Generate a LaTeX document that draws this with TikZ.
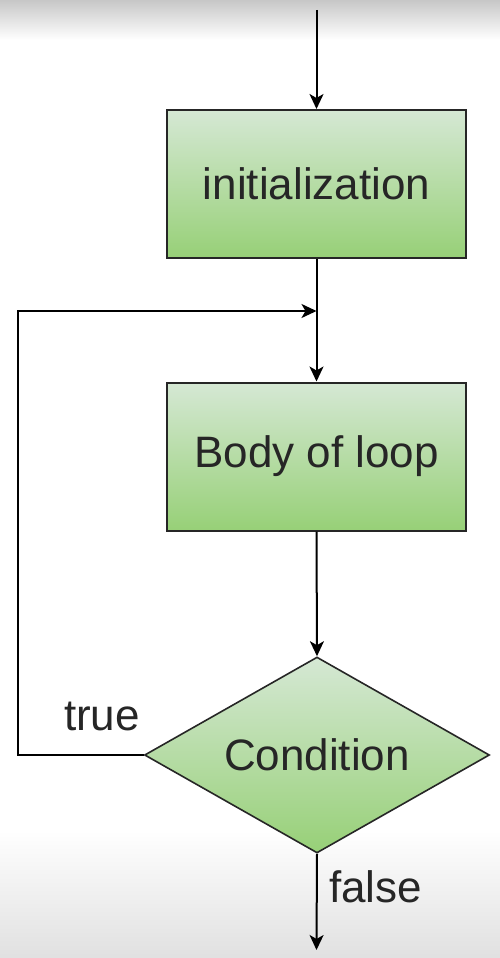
\documentclass[tikz,border=0pt]{standalone}
\usepackage{fontspec}
\setmainfont{Liberation Sans}
\usetikzlibrary{shapes.geometric,arrows.meta}
\definecolor{gtop}{HTML}{D5E8D4}
\definecolor{gbot}{HTML}{97D077}
\definecolor{txt}{HTML}{262626}
\tikzset{
  arr/.style={draw=black, line width=2pt, -{Stealth[length=15pt,width=14pt,inset=4pt]}},
  procbox/.style={draw=black!85, line width=2pt, top color=gtop, bottom color=gbot,
    minimum width=299pt, minimum height=148pt, inner sep=0pt, text=txt,
    font=\fontsize{44}{52}\selectfont},
  decbox/.style={diamond, draw=black!85, line width=1.6pt, top color=gtop, bottom color=gbot,
    minimum width=345pt, minimum height=196pt, inner sep=0pt, aspect=1.76, text=txt,
    font=\fontsize{44}{52}\selectfont},
  lbl/.style={text=txt, font=\fontsize{44}{52}\selectfont, inner sep=0pt}
}
\begin{document}
\begin{tikzpicture}[x=1pt,y=-1pt]
  \useasboundingbox (0,0) rectangle (500,958);
  \fill[white] (0,0) rectangle (500,958);
  \shade[top color=black!22, bottom color=white] (0,0) rectangle (500,40);
  \shade[top color=white, bottom color=black!12] (0,830) rectangle (500,958);
  \node[procbox] (init) at (316.5,184) {initialization};
  \node[procbox] (body) at (316.5,456.5) {Body of loop};
  \node[decbox] (cond) at (317,755) {Condition};
  \coordinate (start) at (316.5,10);
  \coordinate (fin) at (316.5,950);
  \coordinate (c1) at (18,755);
  \coordinate (c2) at (18,311);
  \coordinate (m) at (316.5,311);
  \draw[arr] (start) -- (init.north);
  \draw[arr] (init.south) -- (body.north);
  \draw[arr] (body.south) -- (cond.north);
  \draw[arr] (cond.west) -- (c1) -- (c2) -- (m);
  \draw[arr] (cond.south) -- (fin);
  \node[lbl] (truelbl) at (102,716) {true};
  \node[lbl, anchor=west] (falselbl) at (329,887) {false};
\end{tikzpicture}
\end{document}
